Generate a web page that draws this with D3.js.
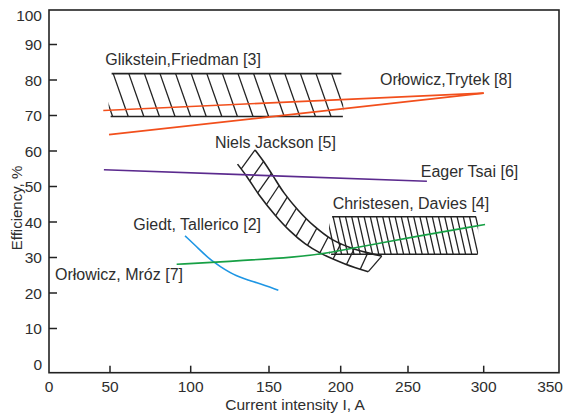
<!DOCTYPE html>
<html><head><meta charset="utf-8">
<script src="https://cdn.jsdelivr.net/npm/d3@7"></script>
<style>
body{margin:0;background:#fff}
svg{display:block}
text{font-family:"Liberation Sans",Arial,sans-serif;fill:#2e2e2e}
</style>
</head><body>
<svg id="chart" width="564" height="413"></svg>
<script>
// ---------- data ----------
const xTicks = [0, 50, 100, 150, 200, 250, 300, 350];
const yTicks = [0, 10, 20, 30, 40, 50, 60, 70, 80, 90, 100];

const orlowiczTrytekA = [[44.5, 71.4], [300, 76.3]];
const orlowiczTrytekB = [[49.2, 64.6], [300, 76.3]];
const eagerTsai = [[45, 54.7], [262.5, 51.5]];
const giedtTallerico = [[96.5, 36.1], [105.3, 32.4], [112.3, 29.4], [118.7, 27.5], [128.3, 24.8], [142.3, 22.9], [156.5, 20.8]];
const orlowiczMroz = [[91.3, 28.1], [121.9, 28.8], [171.6, 30.2], [189.1, 31.1], [232.9, 34.4], [300.9, 39.3]];

const nielsUpper = [[141.1, 60.3], [146.8, 56.9], [152.8, 53.0], [160.5, 48.2], [170.2, 43.4], [181.4, 38.9], [193.9, 35.1], [210.6, 32.3], [230.5, 30.4]];
const nielsLower = [[129.9, 56.3], [136.0, 52.7], [143.6, 47.7], [154.2, 42.0], [164.6, 37.5], [175.1, 33.9], [185.6, 31.3], [203.2, 28.2], [220.5, 26.0]];

const glikX = [51, 200.5], glikY = [69.7, 81.8];
const christX = [194, 295], christY = [30.9, 41.5];

const labelText = ["Glikstein,Friedman [3]", "Orłowicz,Trytek [8]", "Niels Jackson [5]", "Eager Tsai [6]",
                   "Christesen, Davies [4]", "Giedt, Tallerico [2]", "Orłowicz, Mróz [7]"];
const labelX = [46.1, 229.2, 115.5, 258.4, 194.4, 64.4, 4.9];
const labelY = [84.2, 78.6, 60.8, 52.8, 43.6, 37.7, 23.7];

const xTitle = "Current intensity I, A";
const yTitle = "Efficiency, %";

// ---------- layout ----------
const svg = d3.select("#chart");
const plotL = 49, plotR = 559, plotT = 10, plotB = 372.7;
// scanned figure has uneven tick spacing along x
const x = d3.scaleLinear().domain(xTicks).range([49, 110, 190.7, 269, 340.7, 408, 483.7, 559]);
const y = d3.scaleLinear().domain([0, 100]).range([364, 9]);
const ink = "#222";

// frame
svg.append("rect").attr("x", plotL).attr("y", plotT).attr("width", plotR - plotL).attr("height", plotB - plotT)
  .attr("fill", "none").attr("stroke", ink).attr("stroke-width", 1.6);

// y ticks
const yt = yTicks.filter(v => v > 0 && v < 100);
svg.selectAll(".ytick").data(yt).enter().append("line")
  .attr("x1", plotL).attr("x2", plotL + 8).attr("y1", d => y(d)).attr("y2", d => y(d))
  .attr("stroke", ink).attr("stroke-width", 1.5);
svg.selectAll(".ylab").data(yTicks).enter().append("text")
  .attr("x", 42).attr("y", d => Math.max(y(d), 15)).attr("dy", "0.36em")
  .attr("text-anchor", "end").attr("font-size", 15.5).text(d => d);

// x ticks
const xt = xTicks.filter(v => v > 0 && v < 350);
svg.selectAll(".xtick").data(xt).enter().append("line")
  .attr("x1", d => x(d)).attr("x2", d => x(d)).attr("y1", plotB).attr("y2", plotB - 7)
  .attr("stroke", ink).attr("stroke-width", 1.5);
svg.selectAll(".xlab").data(xTicks).enter().append("text")
  .attr("x", (d, i) => i === xTicks.length - 1 ? 563 : x(d)).attr("y", 391.5)
  .attr("text-anchor", (d, i) => i === xTicks.length - 1 ? "end" : "middle")
  .attr("font-size", 15.5).text(d => d);

// axis titles
svg.append("text").attr("x", 295).attr("y", 410).attr("text-anchor", "middle").attr("font-size", 15.5).text(xTitle);
svg.append("text").attr("transform", "translate(22,208) rotate(-90)").attr("text-anchor", "middle")
  .attr("font-size", 15).text(yTitle);

// ---------- hatched rectangular bands ----------
let clipId = 0;
function hatchBand(xr, yr, spacing, slant, phase) {
  const X0 = x(xr[0]), X1 = x(xr[1]), Yt = y(yr[1]), Yb = y(yr[0]);
  const id = "clip" + (clipId++);
  svg.append("clipPath").attr("id", id).append("rect")
    .attr("x", X0 - 3).attr("y", Yt).attr("width", X1 - X0 + 5).attr("height", Yb - Yt);
  const starts = [];
  let t = X0 + phase;
  while (t - spacing > X0 - slant - 4) t -= spacing;
  for (; t <= X1 + 2; t += spacing) starts.push(t);
  const g = svg.append("g").attr("clip-path", `url(#${id})`);
  g.selectAll("line").data(starts).enter().append("line")
    .attr("x1", d => d).attr("y1", Yt).attr("x2", d => d + slant).attr("y2", Yb)
    .attr("stroke", ink).attr("stroke-width", 1.3);
  svg.append("line").attr("x1", X0).attr("x2", X1).attr("y1", Yt).attr("y2", Yt).attr("stroke", ink).attr("stroke-width", 1.6);
  svg.append("line").attr("x1", X0 - 1).attr("x2", X1 + 1.5).attr("y1", Yb).attr("y2", Yb).attr("stroke", ink).attr("stroke-width", 1.6);
}
hatchBand(glikX, glikY, 15.6, 15, 1.6);
hatchBand(christX, christY, 6.2, 8.5, 1);

// ---------- curved band (Niels Jackson) ----------
const curveLine = d3.line().x(d => x(d[0])).y(d => y(d[1])).curve(d3.curveCatmullRom.alpha(0.5));
const up = svg.append("path").attr("d", curveLine(nielsUpper)).attr("fill", "none").attr("stroke", ink).attr("stroke-width", 1.6);
const lo = svg.append("path").attr("d", curveLine(nielsLower)).attr("fill", "none").attr("stroke", ink).attr("stroke-width", 1.6);
const Lu = up.node().getTotalLength(), Ll = lo.node().getTotalLength();
const nH = 13;
const hatchPairs = d3.range(nH).map(i => {
  const f = i / (nH - 1);
  const pl = lo.node().getPointAtLength(Math.min(1, f + 0.035) * Ll);
  const pu = up.node().getPointAtLength(f * Lu);
  return [pl, pu];
});
svg.append("g").selectAll("line").data(hatchPairs).enter().append("line")
  .attr("x1", d => d[0].x).attr("y1", d => d[0].y).attr("x2", d => d[1].x).attr("y2", d => d[1].y)
  .attr("stroke", ink).attr("stroke-width", 1.3);

// ---------- data lines ----------
const straight = d3.line().x(d => x(d[0])).y(d => y(d[1]));
const smooth = d3.line().x(d => x(d[0])).y(d => y(d[1])).curve(d3.curveBasis);
function drawLine(data, gen, color) {
  svg.append("path").attr("d", gen(data)).attr("fill", "none").attr("stroke", color).attr("stroke-width", 1.6);
}
drawLine(orlowiczTrytekA, straight, "#f24f1c");
drawLine(orlowiczTrytekB, straight, "#f24f1c");
drawLine(eagerTsai, straight, "#5b2a8e");
drawLine(giedtTallerico, smooth, "#1e96e4");
drawLine(orlowiczMroz, smooth, "#17a045");

// ---------- labels ----------
svg.selectAll(".lab").data(labelText).enter().append("text")
  .attr("x", (d, i) => x(labelX[i])).attr("y", (d, i) => y(labelY[i]))
  .attr("font-size", 16).text(d => d);
</script>
</body></html>
